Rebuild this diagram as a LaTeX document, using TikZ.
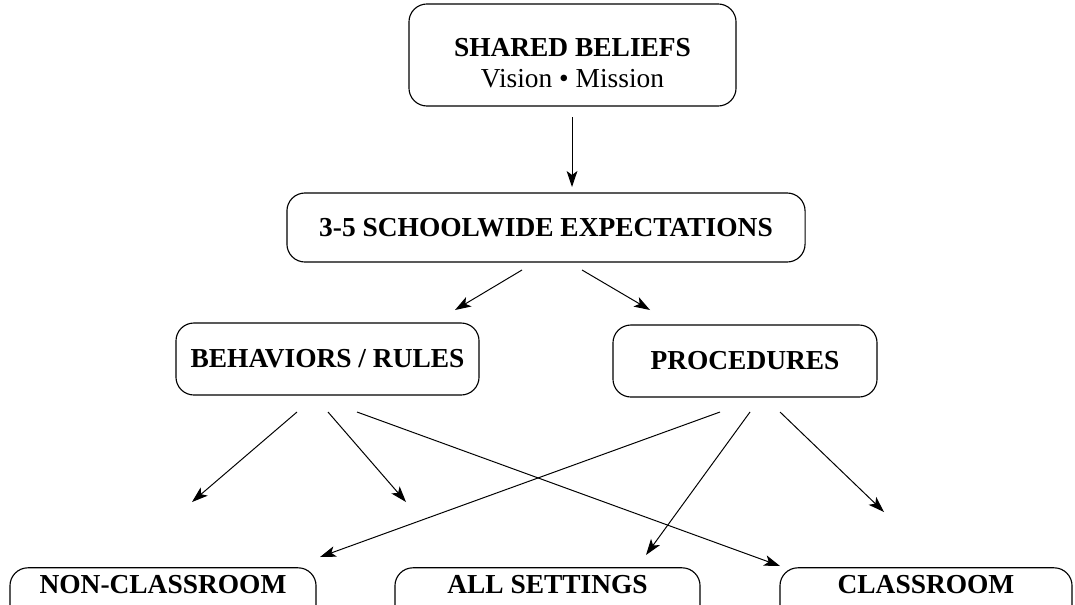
\documentclass[tikz,border=0pt]{standalone}
\usepackage{fontspec}
\setmainfont{Liberation Serif}
\usetikzlibrary{arrows.meta}

\begin{document}
\begin{tikzpicture}[x=0.025cm, y=-0.025cm,
    box/.style={rectangle, draw, rounded corners=0.45cm, line width=0.8pt, align=center,
      font=\fontsize{19.5}{22}\selectfont\bfseries},
    cutbox/.style={box, inner sep=0pt, text height=0.63cm, text depth=1.2cm, anchor=base},
    arr/.style={-{Stealth[length=0.4cm, width=0.27cm, inset=0.1cm]}, line width=0.7pt}]
    \useasboundingbox (0,0) rectangle (1075,604);
    \clip (0,0) rectangle (1075,604);

    % ノード
    \node[box, minimum width=8.175cm, minimum height=2.55cm] (beliefs) at (572.5,55) {\rule{0pt}{0.85cm}SHARED BELIEFS\\{\mdseries Vision • Mission}};
    \node[box, minimum width=12.95cm, minimum height=1.725cm] (expect) at (546,227.5) {3-5 SCHOOLWIDE EXPECTATIONS};
    \node[box, minimum width=7.575cm, minimum height=1.8cm] (behav) at (327.5,359) {BEHAVIORS / RULES};
    \node[box, minimum width=6.6cm, minimum height=1.8cm] (proc) at (745,361) {PROCEDURES};
    \node[cutbox, minimum width=7.65cm] (noncl) at (163,593) {NON-CLASSROOM};
    \node[cutbox, minimum width=7.625cm] (allset) at (547.5,593) {ALL SETTINGS};
    \node[cutbox, minimum width=7.3cm] (classr) at (926,593) {CLASSROOM};

    % 矢印の端点
    \coordinate (beliefs-out) at (572,117);
    \coordinate (expect-in) at (572,187);
    \coordinate (expect-l) at (522,270);
    \coordinate (expect-r) at (582,270);
    \coordinate (behav-in) at (455,310);
    \coordinate (proc-in) at (650,310);
    \coordinate (behav-1) at (297,412);
    \coordinate (behav-2) at (328,412);
    \coordinate (behav-3) at (357,412);
    \coordinate (proc-1) at (720,412);
    \coordinate (proc-2) at (750,412);
    \coordinate (proc-3) at (780,412);
    \coordinate (noncl-a) at (192,502);
    \coordinate (noncl-b) at (320,557);
    \coordinate (allset-a) at (406,502);
    \coordinate (allset-b) at (646,555);
    \coordinate (classr-a) at (780,566);
    \coordinate (classr-b) at (884,512);

    % エッジ
    \draw[arr] (beliefs-out) -- (expect-in);
    \draw[arr] (expect-l) -- (behav-in);
    \draw[arr] (expect-r) -- (proc-in);
    \draw[arr] (behav-1) -- (noncl-a);
    \draw[arr] (behav-2) -- (allset-a);
    \draw[arr] (behav-3) -- (classr-a);
    \draw[arr] (proc-1) -- (noncl-b);
    \draw[arr] (proc-2) -- (allset-b);
    \draw[arr] (proc-3) -- (classr-b);
\end{tikzpicture}
\end{document}
